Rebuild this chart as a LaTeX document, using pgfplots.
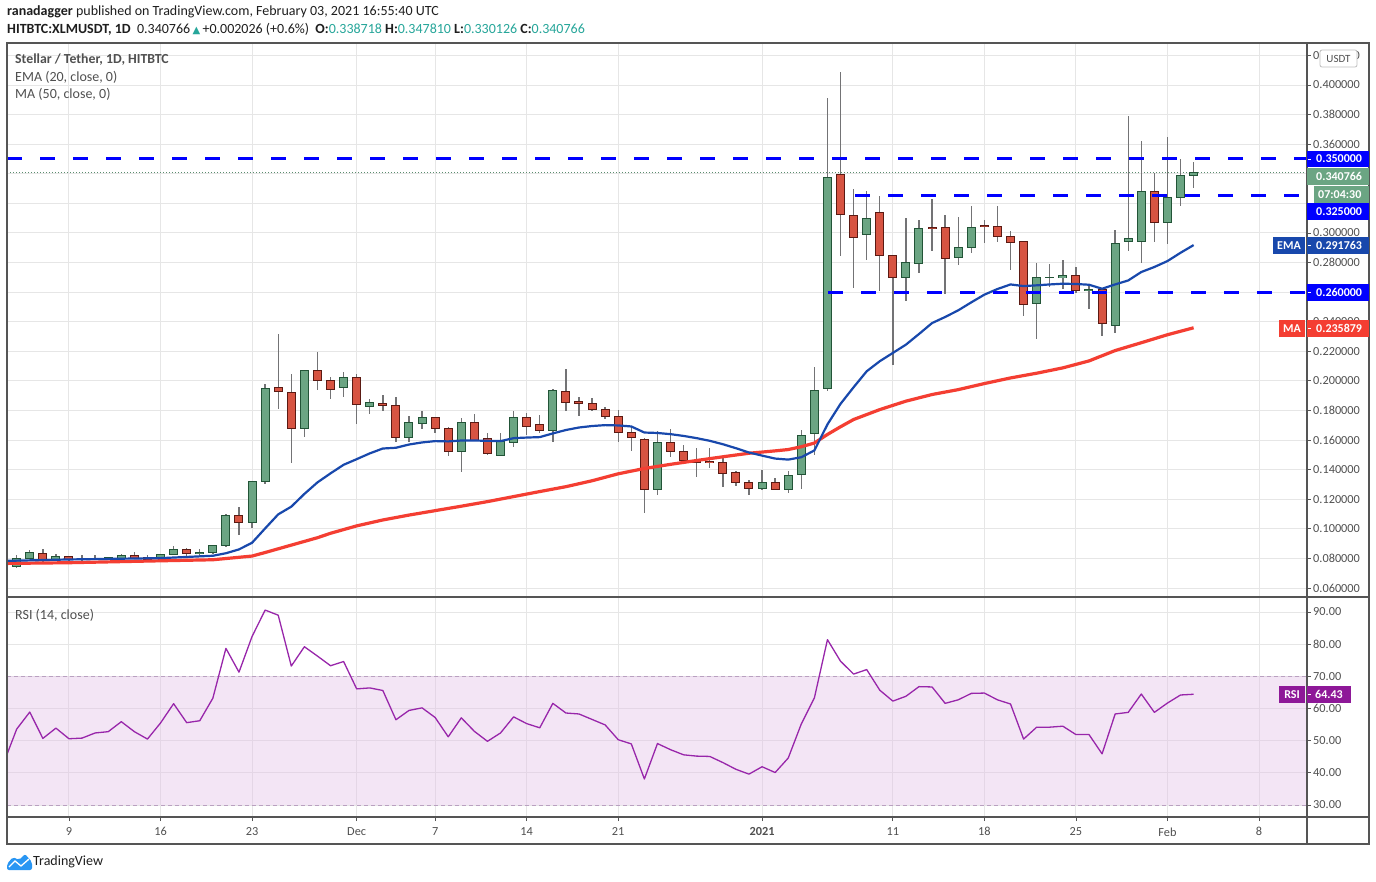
\documentclass[border=0pt]{standalone}
\usepackage{pgfplots}
\pgfplotsset{compat=1.18}
\usepackage{pgfplotstable}
\usepackage{fontspec}
\setmainfont{Carlito}
\newfontfamily\dejavu{DejaVu Sans}

\definecolor{gfill}{RGB}{107,165,131}
\definecolor{gline}{RGB}{34,84,55}
\definecolor{rfill}{RGB}{215,84,66}
\definecolor{rline}{RGB}{91,26,19}
\definecolor{wick}{RGB}{115,115,117}
\definecolor{emac}{RGB}{24,72,172}
\definecolor{mac}{RGB}{244,62,50}
\definecolor{lvl}{RGB}{0,0,255}
\definecolor{gridc}{RGB}{230,230,230}
\definecolor{framec}{RGB}{85,85,85}
\definecolor{txt}{RGB}{80,80,80}
\definecolor{dark}{RGB}{30,30,30}
\definecolor{tvteal}{RGB}{38,166,154}
\definecolor{rsic}{RGB}{152,38,170}
\definecolor{rsibox}{RGB}{142,24,152}
\definecolor{bandc}{RGB}{225,190,231}
\definecolor{bandline}{RGB}{185,160,192}
\definecolor{lastc}{RGB}{90,140,110}
\definecolor{tvblue}{RGB}{41,150,243}

% green candles: day O H L C
\pgfplotstableread{
d O H L C
-4 0.0745 0.0823 0.0732 0.0800
-3 0.0798 0.0856 0.0798 0.0841
-1 0.0791 0.0829 0.0784 0.0814
1 0.0795 0.0823 0.0784 0.0797
2 0.0793 0.0823 0.0789 0.0802
3 0.0795 0.0807 0.0789 0.0807
4 0.0802 0.0827 0.0795 0.0820
7 0.0800 0.0827 0.0793 0.0827
8 0.0827 0.0883 0.0827 0.0861
10 0.0834 0.0861 0.0816 0.0841
11 0.0841 0.0888 0.0827 0.0888
12 0.0888 0.1098 0.0879 0.1091
14 0.1044 0.1321 0.1007 0.1321
15 0.1321 0.1980 0.1305 0.1950
18 0.1680 0.2067 0.1618 0.2067
21 0.1958 0.2060 0.1889 0.2026
23 0.1830 0.1880 0.1773 0.1857
26 0.1620 0.1764 0.1590 0.1722
27 0.1715 0.1798 0.1672 0.1755
30 0.1525 0.1749 0.1387 0.1722
33 0.1498 0.1649 0.1498 0.1589
34 0.1586 0.1798 0.1550 0.1755
37 0.1667 0.1945 0.1590 0.1938
45 0.1268 0.1660 0.1232 0.1586
53 0.1275 0.1396 0.1261 0.1315
55 0.1268 0.1390 0.1239 0.1363
56 0.1369 0.1667 0.1268 0.1633
57 0.1642 0.2096 0.1498 0.1932
58 0.1946 0.3910 0.1930 0.3377
61 0.2992 0.3282 0.2814 0.3100
64 0.2702 0.3100 0.2538 0.2803
65 0.2796 0.3087 0.2729 0.3033
68 0.2837 0.3107 0.2783 0.2904
69 0.2904 0.3181 0.2864 0.3039
74 0.2522 0.2800 0.2286 0.2698
75 0.2698 0.2788 0.2637 0.2702
76 0.2698 0.2819 0.2623 0.2711
78 0.2610 0.2650 0.2488 0.2617
80 0.2373 0.3022 0.2326 0.2927
81 0.2941 0.3793 0.2878 0.2961
82 0.2941 0.3622 0.2800 0.3278
84 0.3069 0.3649 0.2925 0.3238
85 0.3241 0.3501 0.3181 0.3386
86 0.3387 0.3478 0.3301 0.3408
}\greentab

% red candles: day O H L C
\pgfplotstableread{
d O H L C
-2 0.0834 0.0863 0.0777 0.0791
0 0.0814 0.0818 0.0784 0.0791
5 0.0820 0.0843 0.0795 0.0805
6 0.0807 0.0820 0.0784 0.0795
9 0.0861 0.0870 0.0816 0.0834
13 0.1091 0.1147 0.0960 0.1044
16 0.1957 0.2318 0.1813 0.1930
17 0.1923 0.2047 0.1447 0.1680
19 0.2067 0.2195 0.1940 0.2000
20 0.2000 0.2026 0.1880 0.1945
22 0.2026 0.2047 0.1712 0.1843
24 0.1850 0.1907 0.1794 0.1837
25 0.1837 0.1891 0.1590 0.1620
28 0.1755 0.1755 0.1645 0.1681
29 0.1681 0.1688 0.1489 0.1525
31 0.1722 0.1778 0.1600 0.1600
32 0.1613 0.1649 0.1496 0.1512
35 0.1755 0.1785 0.1631 0.1694
36 0.1708 0.1769 0.1645 0.1667
38 0.1931 0.2083 0.1798 0.1857
39 0.1859 0.1893 0.1764 0.1850
40 0.1850 0.1886 0.1794 0.1810
41 0.1810 0.1825 0.1742 0.1762
42 0.1762 0.1802 0.1590 0.1653
43 0.1653 0.1692 0.1529 0.1620
44 0.1606 0.1613 0.1110 0.1268
46 0.1586 0.1674 0.1484 0.1525
47 0.1525 0.1565 0.1444 0.1464
48 0.1464 0.1545 0.1349 0.1450
49 0.1455 0.1545 0.1410 0.1447
50 0.1447 0.1484 0.1281 0.1376
51 0.1383 0.1390 0.1288 0.1315
52 0.1315 0.1329 0.1227 0.1275
54 0.1315 0.1342 0.1268 0.1268
59 0.3397 0.4085 0.2841 0.3127
60 0.3120 0.3296 0.2625 0.2972
62 0.3140 0.3249 0.2605 0.2850
63 0.2850 0.2850 0.2108 0.2702
66 0.3040 0.3228 0.2875 0.3033
67 0.3040 0.3120 0.2587 0.2830
70 0.3053 0.3087 0.2931 0.3046
71 0.3046 0.3181 0.2938 0.2979
72 0.2974 0.3015 0.2749 0.2934
73 0.2941 0.2947 0.2439 0.2515
77 0.2711 0.2772 0.2596 0.2610
79 0.2617 0.2617 0.2304 0.2387
83 0.3278 0.3402 0.2938 0.3069
}\redtab

\pgfplotstableread{
d v
-5 0.0783
0 0.0793
7 0.0802
11 0.0818
12 0.0835
13 0.0861
14 0.0906
15 0.1003
16 0.1098
17 0.1150
18 0.1236
19 0.1314
20 0.1375
21 0.1433
22 0.1471
23 0.1510
24 0.1543
25 0.1548
26 0.1570
27 0.1584
28 0.1593
29 0.1591
30 0.1597
31 0.1597
32 0.1595
33 0.1593
34 0.1613
35 0.1617
36 0.1620
37 0.1645
38 0.1668
39 0.1685
40 0.1695
41 0.1701
42 0.1699
43 0.1692
44 0.1651
45 0.1648
46 0.1640
47 0.1628
48 0.1613
49 0.1595
50 0.1572
51 0.1545
52 0.1516
53 0.1495
54 0.1475
55 0.1468
56 0.1484
57 0.1530
58 0.1706
59 0.1845
60 0.1957
61 0.2065
62 0.2133
63 0.2189
64 0.2245
65 0.2317
66 0.2391
67 0.2432
68 0.2477
69 0.2531
70 0.2583
71 0.2621
72 0.2652
73 0.2641
74 0.2646
75 0.2652
76 0.2657
77 0.2655
78 0.2650
79 0.2623
80 0.2652
81 0.2679
82 0.2736
83 0.2770
84 0.2810
85 0.2866
86 0.2918
}\ematab

\pgfplotstableread{
d v
-5 0.0766
0 0.0771
7 0.0784
11 0.0791
14 0.0816
15 0.0840
16 0.0865
17 0.0890
18 0.0915
19 0.0940
20 0.0970
22 0.1020
24 0.1060
26 0.1093
28 0.1123
30 0.1153
32 0.1184
34 0.1218
36 0.1252
38 0.1285
40 0.1325
42 0.1372
44 0.1408
46 0.1436
48 0.1462
50 0.1487
52 0.1511
54 0.1527
55 0.1536
56 0.1555
57 0.1580
58 0.1638
59 0.1690
60 0.1739
62 0.1806
64 0.1863
66 0.1908
68 0.1941
70 0.1982
72 0.2020
74 0.2052
76 0.2088
78 0.2135
80 0.2205
82 0.2258
84 0.2312
86 0.2359
}\matab

\pgfplotstableread{
d r
-5 43.0
-4 53.6
-3 58.9
-2 50.7
-1 53.9
0 50.6
1 50.8
2 52.4
3 52.8
4 55.9
5 52.8
6 50.5
7 55.5
8 61.5
9 55.6
10 56.2
11 63.2
12 78.7
13 71.3
14 82.4
15 90.6
16 89.0
17 73.2
18 79.2
19 76.3
20 73.3
21 74.6
22 66.1
23 66.4
24 65.6
25 56.5
26 59.4
27 60.2
28 57.2
29 51.2
30 57.1
31 52.9
32 49.8
33 52.4
34 57.4
35 55.3
36 54.0
37 61.6
38 58.6
39 58.3
40 56.6
41 54.9
42 50.3
43 49.0
44 38.1
45 49.1
46 47.2
47 45.6
48 45.2
49 45.1
50 43.2
51 41.1
52 39.6
53 41.9
54 40.1
55 44.6
56 55.2
57 63.3
58 81.4
59 74.7
60 70.7
61 72.1
62 65.7
63 62.3
64 63.8
65 66.8
66 66.7
67 61.6
68 62.7
69 64.7
70 64.8
71 62.7
72 61.4
73 50.5
74 54.2
75 54.2
76 54.5
77 51.9
78 51.9
79 45.9
80 58.3
81 58.8
82 64.5
83 58.8
84 61.7
85 64.2
86 64.43
}\rsitab

\newcommand\tickfont{\fontsize{12.3}{14}\selectfont}
\newcommand\boxfont{\fontsize{12}{14}\selectfont\bfseries}
\newcommand\headfont{\fontsize{14}{16}\selectfont}

\pgfplotsset{
  candlewick/.style={forget plot, draw=none, mark=none,
    error bars/.cd, y dir=both, y explicit, error mark=none,
    error bar style={line width=1.4pt, draw=wick}},
  candlebody/.style 2 args={forget plot, draw=none, mark=none,
    error bars/.cd, y dir=both, y explicit, error mark=none,
    error bar style={line width=#1, draw=#2}},
}

\begin{document}
\begin{tikzpicture}
\fill[white] (0pt,0pt) rectangle (1376pt,-881pt);

% ---------------- main price pane ----------------
\begin{axis}[
  at={(7pt,-43pt)}, anchor=north west, scale only axis,
  width=1300pt, height=554pt,
  xmin=-4.741, xmax=94.67, ymin=0.05392, ymax=0.4284,
  xtick={0,7,14,22,28,35,42,53,63,70,77,84,91}, xticklabels={},
  ytick={0.06,0.08,0.10,0.12,0.14,0.16,0.18,0.20,0.22,0.24,0.26,0.28,0.30,0.32,0.34,0.36,0.38,0.40,0.42},
  yticklabels={0.060000,0.080000,0.100000,0.120000,0.140000,0.160000,0.180000,0.200000,0.220000,0.240000,,0.280000,0.300000,,,0.360000,0.380000,0.400000,0.420000},
  ytick pos=right, yticklabel pos=right,
  xmajorgrids, ymajorgrids, grid style={draw=gridc, line width=1pt},
  tick align=outside, major tick length=4pt,
  x tick style={draw=none},
  y tick style={draw=framec, line width=0.8pt},
  axis line style={draw=framec, line width=1.2pt},
  yticklabel style={font=\tickfont, text=txt, inner sep=2pt},
]
% last price dotted line
\addplot[forget plot, lastc, line width=0.8pt, dash pattern=on 1pt off 2pt] coordinates {(-4.741,0.340766) (94.67,0.340766)};

% wicks
\addplot[candlewick] table[x=d, y expr={(\thisrow{H}+\thisrow{L})/2}, y error expr={(\thisrow{H}-\thisrow{L})/2}] {\greentab};
\addplot[candlewick] table[x=d, y expr={(\thisrow{H}+\thisrow{L})/2}, y error expr={(\thisrow{H}-\thisrow{L})/2}] {\redtab};
% bodies: border then fill
\addplot[candlebody={9pt}{gline}] table[x=d, y expr={(\thisrow{O}+\thisrow{C})/2}, y error expr={abs(\thisrow{C}-\thisrow{O})/2+0.00034}] {\greentab};
\addplot[candlebody={7pt}{gfill}] table[x=d, y expr={(\thisrow{O}+\thisrow{C})/2}, y error expr={max(abs(\thisrow{C}-\thisrow{O})/2-0.00034,0)}] {\greentab};
\addplot[candlebody={9pt}{rline}] table[x=d, y expr={(\thisrow{O}+\thisrow{C})/2}, y error expr={abs(\thisrow{C}-\thisrow{O})/2+0.00034}] {\redtab};
\addplot[candlebody={7pt}{rfill}] table[x=d, y expr={(\thisrow{O}+\thisrow{C})/2}, y error expr={max(abs(\thisrow{C}-\thisrow{O})/2-0.00034,0)}] {\redtab};

% moving averages
\addplot[forget plot, mac, line width=3.2pt, line join=round] table[x=d, y=v] {\matab};
\addplot[forget plot, emac, line width=2.2pt, line join=round] table[x=d, y=v] {\ematab};

% horizontal levels
\addplot[forget plot, lvl, line width=3pt, dash pattern=on 15pt off 18pt] coordinates {(-4.741,0.35) (94.67,0.35)};
\addplot[forget plot, lvl, line width=3pt, dash pattern=on 15pt off 18pt] coordinates {(60.11,0.325) (94.67,0.325)};
\addplot[forget plot, lvl, line width=3pt, dash pattern=on 15pt off 18pt] coordinates {(58.04,0.26) (94.67,0.26)};
\end{axis}

% ---------------- RSI pane ----------------
\begin{axis}[
  at={(7pt,-597pt)}, anchor=north west, scale only axis,
  width=1300pt, height=220pt,
  xmin=-4.741, xmax=94.67, ymin=26.27, ymax=94.66,
  xtick={0,7,14,22,28,35,42,53,63,70,77,84,91},
  xticklabels={9,16,23,Dec,7,14,21,\textbf{2021},11,18,25,Feb,8},
  ytick={30,40,50,60,70,80,90},
  yticklabels={30.00,40.00,50.00,60.00,70.00,80.00,90.00},
  ytick pos=right, yticklabel pos=right, xtick pos=bottom,
  xmajorgrids, ymajorgrids, grid style={draw=gridc, line width=1pt},
  tick align=outside, major tick length=4pt,
  tick style={draw=framec, line width=0.8pt},
  axis line style={draw=framec, line width=1.2pt},
  xticklabel style={font=\tickfont, text=txt, yshift=-3pt},
  yticklabel style={font=\tickfont, text=txt, inner sep=2pt},
]
\fill[bandc, opacity=0.4] (axis cs:-4.741,30) rectangle (axis cs:94.67,70);
\draw[bandline, line width=1pt, dash pattern=on 4pt off 3pt] (axis cs:-4.741,70) -- (axis cs:94.67,70);
\draw[bandline, line width=1pt, dash pattern=on 4pt off 3pt] (axis cs:-4.741,30) -- (axis cs:94.67,30);
\addplot[forget plot, rsic, line width=1.3pt, line join=round] table[x=d, y=r] {\rsitab};
\end{axis}

\begin{scope}[x=1pt, y=-1pt]
% frame
\draw[framec, line width=1.2pt] (7,43) rectangle (1369,844);
\draw[framec, line width=1.2pt] (7,597) -- (1369,597);
\draw[framec, line width=1.2pt] (7,817) -- (1369,817);
\draw[framec, line width=1.2pt] (1307,43) -- (1307,844);

% header
\node[anchor=west, inner sep=0, text=dark, font=\headfont] at (7,12)
  {\textbf{ranadagger} published on TradingView.com, February 03, 2021 16:55:40 UTC};
\node[anchor=west, inner sep=0, text=dark, font=\headfont] at (7,29)
  {\textbf{HITBTC:XLMUSDT, 1D}\ \ 0.340766\,{\color{tvteal}\dejavu\fontsize{10}{11}\selectfont ▲}\,+0.002026 (+0.6\%)\ \ \textbf{O:}\textcolor{tvteal}{0.338718}\ \textbf{H:}\textcolor{tvteal}{0.347810}\ \textbf{L:}\textcolor{tvteal}{0.330126}\ \textbf{C:}\textcolor{tvteal}{0.340766}};

% legend
\node[anchor=west, inner sep=0, text=txt, font=\fontsize{13.8}{15}\selectfont\bfseries] at (15,60) {Stellar / Tether, 1D, HITBTC};
\node[anchor=west, inner sep=0, text=txt, font=\fontsize{14}{15}\selectfont] at (15,77) {EMA (20, close, 0)};
\node[anchor=west, inner sep=0, text=txt, font=\fontsize{14}{15}\selectfont] at (15,94) {MA (50, close, 0)};
\node[anchor=west, inner sep=0, text=txt, font=\fontsize{14}{15}\selectfont] at (15,615) {RSI (14, close)};

% USDT badge
\draw[rounded corners=2pt, fill=white, draw=gray!50, line width=0.8pt] (1320,50) rectangle (1357,67);
\node[text=txt, font=\fontsize{11}{12}\selectfont, inner sep=0] at (1338.5,58.5) {USDT};

% price scale boxes
\fill[lvl] (1307,151) rectangle (1369,167);
\node[anchor=west, inner sep=0, text=white, font=\boxfont] at (1316,159) {0.350000};
\fill[gfill] (1307,168) rectangle (1369,185);
\node[anchor=west, inner sep=0, text=white, font=\boxfont] at (1316,176.5) {0.340766};
\fill[gfill] (1314,186) rectangle (1369,203);
\node[anchor=west, inner sep=0, text=white, font=\boxfont] at (1318,194.5) {07:04:30};
\fill[lvl] (1307,203) rectangle (1369,220);
\node[anchor=west, inner sep=0, text=white, font=\boxfont] at (1316,211.5) {0.325000};
\fill[emac] (1273,237) rectangle (1305,254);
\node[text=white, font=\boxfont, inner sep=0] at (1289,245.5) {EMA};
\fill[emac] (1307,237) rectangle (1369,254);
\node[anchor=west, inner sep=0, text=white, font=\boxfont] at (1316,245.5) {0.291763};
\fill[lvl] (1307,284) rectangle (1369,301);
\node[anchor=west, inner sep=0, text=white, font=\boxfont] at (1316,292.5) {0.260000};
\fill[mac] (1279,320) rectangle (1305,337);
\node[text=white, font=\boxfont, inner sep=0] at (1292,328.5) {MA};
\fill[mac] (1307,320) rectangle (1369,337);
\node[anchor=west, inner sep=0, text=white, font=\boxfont] at (1316,328.5) {0.235879};
\fill[rsibox] (1279,686) rectangle (1305,703);
\node[text=white, font=\boxfont, inner sep=0] at (1292,694.5) {RSI};
\fill[rsibox] (1307,686) rectangle (1351,703);
\node[anchor=west, inner sep=0, text=white, font=\boxfont] at (1315,694.5) {64.43};
\foreach \yy in {159,245.5,292.5,328.5,694.5} \draw[white, line width=0.8pt] (1307.5,\yy) -- (1311,\yy);

% TradingView logo
\fill[tvblue, rounded corners=2pt] (7,870) -- (7,864) -- (13,857) -- (19,860) -- (25,854) -- (32,862) -- (32,870) -- cycle;
\draw[white, line width=1.3pt] (9,867) -- (15,861) -- (21,866) -- (29,859);
\node[anchor=west, inner sep=0, text=dark, font=\fontsize{14}{16}\selectfont] at (33,862) {TradingView};
\end{scope}
\end{tikzpicture}
\end{document}
